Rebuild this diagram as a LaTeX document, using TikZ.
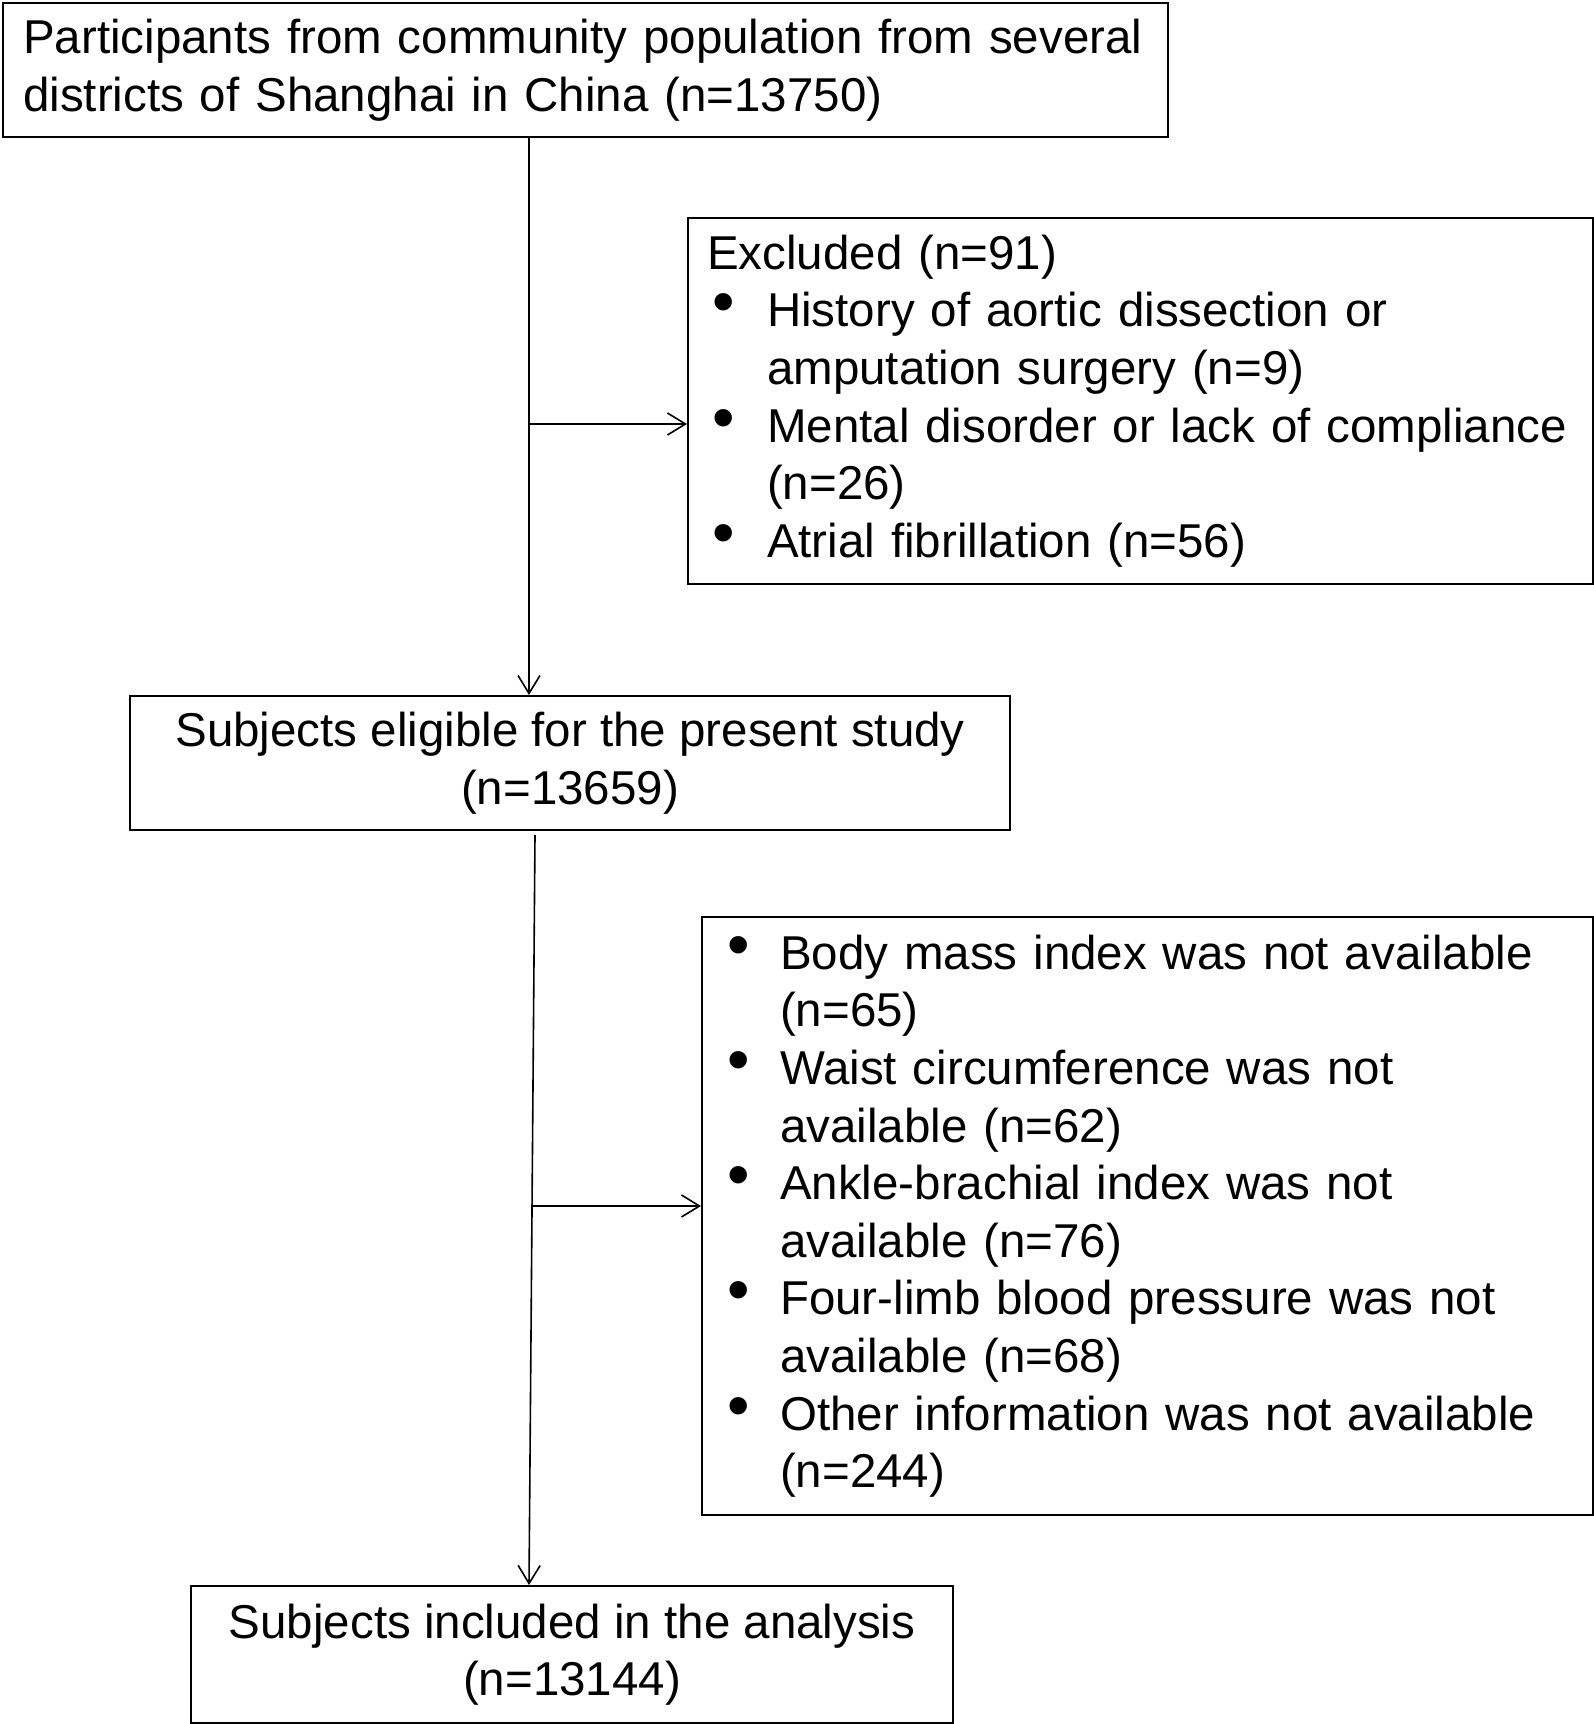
\documentclass[tikz,border=0pt]{standalone}
\usepackage{fontspec}
\usepackage{graphicx}
\setmainfont{Liberation Sans}
\usetikzlibrary{arrows.meta}
% bullets and hanging indents for the two side boxes
\def\bigdot{\raisebox{3pt}{\scalebox{1.35}{•}}}
\def\exbul{\makebox[60pt][l]{\hspace{5pt}\bigdot}}
\def\exind{\hspace*{60pt}}
\def\mibul{\makebox[53pt][l]{\bigdot}}
\def\miind{\hspace*{53pt}}
\tikzset{
  box/.style={draw, line width=2.2pt, anchor=north west, inner ysep=0pt,
    font=\fontsize{47.5}{57.6}\selectfont},
  flow/.style={line width=1.6pt, -{Straight Barb[length=18pt,width=22pt]}}
}

\begin{document}
\begin{tikzpicture}[x=1pt,y=-1pt]
  \useasboundingbox (0,0) rectangle (1594,1724);
  \node[box, minimum width=1165pt, minimum height=134pt, inner xsep=20pt,
        text width=1125pt, align=left] (part) at (2,2)
    {Participants from community population from several\\
     districts of Shanghai in China (n=13750)};
  \node[box, minimum width=905pt, minimum height=366pt, inner xsep=19pt,
        text width=867pt, align=left] (excl) at (687,217)
    {Excluded (n=91)\\
     \exbul History of aortic dissection or\\
     \exind amputation surgery (n=9)\\
     \exbul Mental disorder or lack of compliance\\
     \exind (n=26)\\
     \exbul Atrial fibrillation (n=56)};
  \node[box, minimum width=880pt, minimum height=134pt, align=center] (elig) at (129,695)
    {Subjects eligible for the present study\\(n=13659)};
  \node[box, minimum width=891pt, minimum height=598pt, inner xsep=25pt,
        text width=841pt, align=left] (miss) at (701,916)
    {\mibul Body mass index was not available\\
     \miind (n=65)\\
     \mibul Waist circumference was not\\
     \miind available (n=62)\\
     \mibul Ankle-brachial index was not\\
     \miind available (n=76)\\
     \mibul Four-limb blood pressure was not\\
     \miind available (n=68)\\
     \mibul Other information was not available\\
     \miind (n=244)};
  \node[box, minimum width=762pt, minimum height=137pt, align=center] (incl) at (190,1585)
    {Subjects included in the analysis\\(n=13144)};

  % trunk and side branches
  \coordinate (v1) at (529,0);
  \coordinate (b1) at (529,424);
  \coordinate (v2) at (535,835);
  \coordinate (b2) at (533,1206);
  \draw[flow] (v1 |- part.south) -- (v1 |- elig.north);
  \draw[flow] (b1) -- (b1 -| excl.west);
  \draw[flow] (v2) -- (v1 |- incl.north);
  \draw[flow] (b2) -- (b2 -| miss.west);
\end{tikzpicture}
\end{document}
